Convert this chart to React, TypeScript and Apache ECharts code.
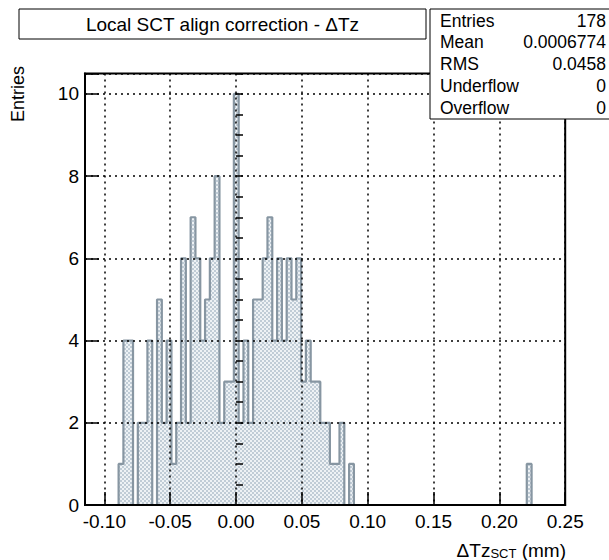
import React, { useEffect, useRef } from 'react';
import * as echarts from 'echarts';

// Histogram definition
const X_MIN = -0.1147;
const X_MAX = 0.25;
const N_BINS = 100;
const FIRST_BIN = 7;
// bin contents for bins 7..55
const binCounts = [
  1, 4, 4, 0, 2, 2, 4, 0,
  5, 2, 4, 1, 2, 6, 2, 7,
  6, 4, 5, 6, 8, 2, 3, 3,
  10, 2, 4, 2, 5, 5, 6, 7,
  4, 6, 4, 6, 5, 6, 3, 4,
  3, 3, 2, 2, 1, 1, 2, 0, 1,
];
const outlierBins = [92];
const outlierCounts = [1];

const xTickStep = 0.05;
const yTickStep = 2;
const yMinorStep = 0.5;
const Y_MAX = 10.5;

const titleText = 'Local SCT align correction - \u0394Tz';
const yTitle = 'Entries';
const statsLabels = ['Entries', 'Mean', 'RMS', 'Underflow', 'Overflow'];
const statsValues = ['178', '0.0006774', '0.0458', '0', '0'];

const FONT = '"Liberation Sans", Arial, Helvetica, sans-serif';

function buildCounts(): number[] {
  const c = new Array(N_BINS).fill(0);
  binCounts.forEach((v, i) => (c[FIRST_BIN + i] = v));
  outlierBins.forEach((b, i) => (c[b] += outlierCounts[i]));
  return c;
}

function makePattern(): HTMLCanvasElement {
  const c = document.createElement('canvas');
  c.width = 4;
  c.height = 4;
  const ctx = c.getContext('2d')!;
  ctx.fillStyle = '#eef2f5';
  ctx.fillRect(0, 0, 4, 4);
  ctx.fillStyle = '#c0ccd6';
  ctx.fillRect(0, 0, 2, 2);
  ctx.fillRect(2, 2, 2, 2);
  return c;
}

export default function App() {
  const ref = useRef<HTMLDivElement>(null);
  useEffect(() => {
    document.body.style.margin = '0';
    if (!ref.current) return;
    const chart = echarts.init(ref.current, undefined, { renderer: 'svg' });
    const counts = buildCounts();
    const w = (X_MAX - X_MIN) / N_BINS;
    const data: [number, number][] = counts.map((v, k) => [X_MIN + k * w, v]);
    data.push([X_MAX, counts[N_BINS - 1]]);

    const xFmt = (v: number) => {
      const r = v / xTickStep;
      if (Math.abs(r - Math.round(r)) > 1e-6) return '';
      const s = (Math.round(r) * xTickStep).toFixed(2);
      return s === '-0.00' ? '0.00' : s;
    };
    const yFmt = (v: number) => (Math.abs(v % yTickStep) < 1e-9 ? String(v) : '');

    const statsGraphics: any[] = [];
    statsLabels.forEach((lab, i) => {
      const cy = 20.5 + i * 21.8;
      statsGraphics.push({
        type: 'text', x: 440, y: cy, z: 101,
        style: { text: lab, font: `17.5px ${FONT}`, fill: '#000', align: 'left', verticalAlign: 'middle' },
      });
      statsGraphics.push({
        type: 'text', x: 606, y: cy, z: 101,
        style: { text: statsValues[i], font: `17.5px ${FONT}`, fill: '#000', align: 'right', verticalAlign: 'middle' },
      });
    });

    chart.setOption({
      animation: false,
      grid: {
        left: 85, right: 43.8, top: 73.4, bottom: 55,
        show: true, borderColor: '#000', borderWidth: 2, backgroundColor: 'transparent',
      },
      xAxis: {
        type: 'value', min: X_MIN, max: X_MAX, splitNumber: 7,
        minInterval: xTickStep, maxInterval: xTickStep, z: 5,
        axisLine: { show: true, onZero: false, lineStyle: { color: '#000', width: 2 } },
        axisTick: { show: true, inside: true, length: 13, lineStyle: { color: '#000', width: 1.5 } },
        axisLabel: { formatter: xFmt, color: '#000', fontSize: 19, fontFamily: FONT, margin: 7 },
        splitLine: { show: true, lineStyle: { color: '#000', type: [2, 4], width: 1.5 } },
      },
      yAxis: [
        {
          type: 'value', min: 0, max: Y_MAX, interval: yTickStep, z: 5,
          axisLine: { show: true, onZero: false, lineStyle: { color: '#000', width: 2 } },
          axisTick: { show: true, inside: true, length: 14, lineStyle: { color: '#000', width: 1.5 } },
          axisLabel: { formatter: yFmt, color: '#000', fontSize: 19, fontFamily: FONT, margin: 6 },
          splitLine: { show: true, lineStyle: { color: '#000', type: [2, 4], width: 1.5 } },
        },
        {
          type: 'value', min: 0, max: Y_MAX, interval: yMinorStep, position: 'left', z: 5,
          axisLine: { show: false },
          axisTick: { show: true, inside: true, length: 7, lineStyle: { color: '#000', width: 1.5 } },
          axisLabel: { show: false },
          splitLine: { show: false },
        },
      ],
      series: [
        {
          type: 'line', step: 'end', data, symbol: 'none', z: 2,
          lineStyle: { color: '#8796a2', width: 2.2 },
          areaStyle: { color: { image: makePattern(), repeat: 'repeat' }, opacity: 1 },
        },
      ],
      graphic: [
        {
          type: 'rect', z: 100, shape: { x: 19, y: 9, width: 407, height: 30 },
          style: { fill: '#fff', stroke: '#000', lineWidth: 1 },
        },
        {
          type: 'text', z: 101, x: 222.5, y: 24,
          style: { text: titleText, font: `19px ${FONT}`, fill: '#000', align: 'center', verticalAlign: 'middle' },
        },
        {
          type: 'rect', z: 100, shape: { x: 430, y: 9, width: 180, height: 110 },
          style: { fill: '#fff', stroke: '#000', lineWidth: 1 },
        },
        ...statsGraphics,
        {
          type: 'text', z: 101, x: 18, y: 66, rotation: Math.PI / 2,
          style: { text: yTitle, font: `18px ${FONT}`, fill: '#000', align: 'right', verticalAlign: 'middle' },
        },
        {
          type: 'text', z: 101, x: 566, y: 548,
          style: {
            text: '{a|\u0394Tz}{s|SCT}{a| (mm)}',
            align: 'right', verticalAlign: 'middle',
            rich: {
              a: { font: `19px ${FONT}`, fill: '#000', lineHeight: 24, verticalAlign: 'bottom' },
              s: { font: `13px ${FONT}`, fill: '#000', lineHeight: 24, verticalAlign: 'bottom' },
            },
          },
        },
      ],
    });
    return () => chart.dispose();
  }, []);
  return <div ref={ref} style={{ width: 609, height: 560 }} />;
}
